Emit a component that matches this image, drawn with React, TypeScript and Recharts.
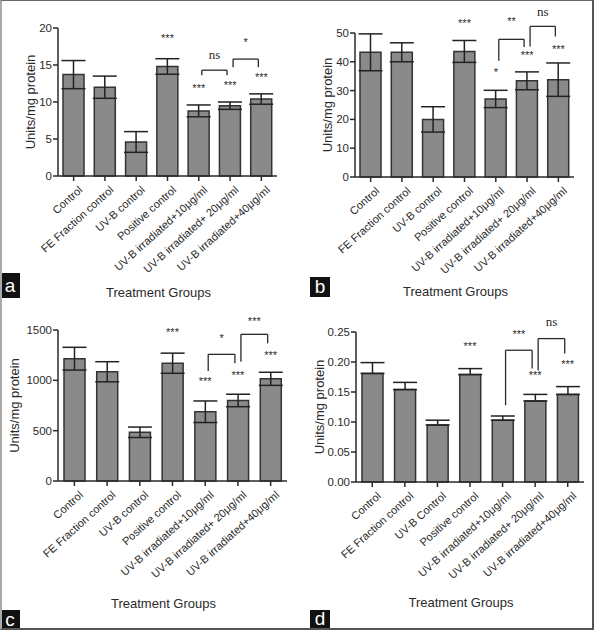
import React from "react";
import { ComposedChart, Bar, ErrorBar, XAxis, YAxis, ReferenceLine, ReferenceDot } from "recharts";

// category labels
const NAMES = [
  "Control",
  "FE Fraction control",
  "UV-B control",
  "Positive control",
  "UV-B irradiated+10μg/ml",
  "UV-B irradiated+ 20μg/ml",
  "UV-B irradiated+40μg/ml",
];
const NAMES_D = [
  "Control",
  "FE Fraction control",
  "UV-B Control",
  "Positive control",
  "UV-B irradiated+10μg/ml",
  "UV-B irradiated+ 20μg/ml",
  "UV-B irradiated+40μg/ml",
];

// panel a
const A_VALUES = [13.7, 12.0, 4.6, 14.8, 8.8, 9.5, 10.4];
const A_ERRORS = [1.9, 1.5, 1.4, 1.05, 0.8, 0.5, 0.7];
const A_TICKS = [0, 5, 10, 15, 20];
const A_STARS = [
  { at: 3, y: 18.6, text: "***" },
  { at: 4, y: 11.9, text: "***" },
  { at: 5, y: 12.3, text: "***" },
  { at: 6, y: 13.4, text: "***" },
];
const A_BRACKETS = [
  { from: 4, to: 5, top: 14.3, left: 13.6, right: 13.6, text: "ns", textY: 16.4 },
  { from: 5, to: 6, top: 15.8, left: 14.7, right: 14.7, text: "*", textY: 18.1 },
];

// panel b
const B_VALUES = [43.3, 43.3, 20.0, 43.6, 27.1, 33.4, 33.8];
const B_ERRORS = [6.4, 3.3, 4.4, 3.8, 3.0, 3.1, 5.8];
const B_TICKS = [0, 10, 20, 30, 40, 50];
const B_STARS = [
  { at: 3, y: 53.5, text: "***" },
  { at: 4, y: 36.6, text: "*" },
  { at: 5, y: 42.4, text: "***" },
  { at: 6, y: 44.5, text: "***" },
];
const B_BRACKETS = [
  { from: 4, to: 5, top: 47.8, left: 40.4, right: 45.1, text: "**", textY: 54.2 },
  { from: 5, to: 6, top: 52.3, left: 45.3, right: 48.8, text: "ns", textY: 57.3 },
];

// panel c
const C_VALUES = [1215, 1085, 484, 1170, 688, 800, 1015];
const C_ERRORS = [113, 100, 52, 100, 107, 62, 65];
const C_TICKS = [0, 500, 1000, 1500];
const C_STARS = [
  { at: 3, y: 1483, text: "***" },
  { at: 4, y: 993, text: "***" },
  { at: 5, y: 1053, text: "***" },
  { at: 6, y: 1251, text: "***" },
];
const C_BRACKETS = [
  { from: 4, to: 5, top: 1258, left: 1092, right: 1169, text: "*", textY: 1417 },
  { from: 5, to: 6, top: 1457, left: 1185, right: 1368, text: "***", textY: 1590 },
];

// panel d (upper error only)
const D_VALUES = [0.181, 0.154, 0.095, 0.179, 0.103, 0.135, 0.146];
const D_ERRORS = [0.018, 0.012, 0.008, 0.010, 0.007, 0.011, 0.013];
const D_TICKS = [0, 0.05, 0.1, 0.15, 0.2, 0.25];
const D_STARS = [
  { at: 3, y: 0.226, text: "***" },
  { at: 5, y: 0.178, text: "***" },
  { at: 6, y: 0.196, text: "***" },
];
const D_BRACKETS = [
  { from: 4, to: 5, top: 0.2196, left: 0.128, right: 0.189, text: "***", textY: 0.246 },
  { from: 5, to: 6, top: 0.239, left: 0.186, right: 0.214, text: "ns", textY: 0.267 },
];

const FONT = "'Liberation Sans', Arial, sans-serif";
const SERIF = "'Liberation Serif', 'Times New Roman', serif";
const INK = "#2a2a2a";

const CatTick = (props: any) => {
  const { x, y, payload } = props;
  return (
    <g transform={`translate(${x + 4},${y + 2})`}>
      <text x={0} y={0} dy={8} textAnchor="end" transform="rotate(-42)" fontSize={11} fill={INK} fontFamily={FONT}>
        {payload.value}
      </text>
    </g>
  );
};

function Panel({ names, values, errors, upperOnly, ticks, fmt, stars, brackets, top, bottom, left, right, titleBottom, yLabelX }: any) {
  const data = names.map((n: string, i: number) => ({
    name: n,
    value: values[i],
    err: upperOnly ? [0, errors[i]] : errors[i],
  }));
  const xAxisH = titleBottom - bottom;
  const starText = (t: string) => (t === "ns" ? { fontFamily: SERIF, fontSize: 13 } : { fontFamily: FONT, fontSize: 11 });
  const seg = (dx1: number, dx2: number) => (p: any) => (
    <line x1={p.x1 + dx1} y1={p.y1} x2={p.x2 + dx2} y2={p.y2} stroke={INK} strokeWidth={1.3} />
  );
  return (
    <ComposedChart
      width={297}
      height={315}
      data={data}
      style={{ overflow: "visible" }}
      margin={{ top, right: 297 - right, left: 0, bottom: 315 - bottom - xAxisH }}
    >
      <XAxis
        dataKey="name"
        interval={0}
        tick={<CatTick />}
        tickSize={5}
        tickMargin={2}
        height={xAxisH}
        stroke={INK}
        strokeWidth={1.5}
        label={{ value: "Treatment Groups", position: "insideBottom", offset: 0, dx: -9, fontSize: 13, fill: INK, fontFamily: FONT }}
      />
      <YAxis
        width={left}
        domain={[ticks[0], ticks[ticks.length - 1]]}
        ticks={ticks}
        tickFormatter={fmt}
        tickSize={5}
        tickMargin={1}
        stroke={INK}
        strokeWidth={1.5}
        tick={{ fontSize: 11.5, fill: INK, fontFamily: FONT }}
        label={{
          value: "Units/mg protein",
          angle: -90,
          position: "insideLeft",
          offset: yLabelX,
          style: { textAnchor: "middle" },
          fontSize: 13,
          fill: INK,
          fontFamily: FONT,
        }}
      />
      <Bar dataKey="value" fill="#8a8a8a" stroke="#333" strokeWidth={1.5} barSize={21} isAnimationActive={false}>
        <ErrorBar dataKey="err" width={12} stroke="#222" strokeWidth={1.5} />
      </Bar>
      {stars.map((s: any, i: number) => (
        <ReferenceDot
          key={"s" + i}
          x={names[s.at]}
          y={s.y}
          r={0}
          ifOverflow="visible"
          shape={(p: any) => (
            <text x={p.cx} y={p.cy} textAnchor="middle" dominantBaseline="central" fill={INK} {...starText(s.text)}>
              {s.text}
            </text>
          )}
        />
      ))}
      {brackets.map((b: any, i: number) => (
        <React.Fragment key={"b" + i}>
          <ReferenceLine
            segment={[{ x: names[b.from], y: b.top }, { x: names[b.to], y: b.top }]}
            ifOverflow="visible"
            shape={seg(3, -3)}
          />
          <ReferenceLine
            segment={[{ x: names[b.from], y: b.top }, { x: names[b.from], y: b.left }]}
            ifOverflow="visible"
            shape={seg(3, 3)}
          />
          <ReferenceLine
            segment={[{ x: names[b.to], y: b.top }, { x: names[b.to], y: b.right }]}
            ifOverflow="visible"
            shape={seg(-3, -3)}
          />
          <ReferenceLine
            segment={[{ x: names[b.from], y: b.textY }, { x: names[b.to], y: b.textY }]}
            ifOverflow="visible"
            shape={(p: any) => (
              <text x={(p.x1 + p.x2) / 2} y={p.y1} textAnchor="middle" dominantBaseline="central" fill={INK} {...starText(b.text)}>
                {b.text}
              </text>
            )}
          />
        </React.Fragment>
      ))}
    </ComposedChart>
  );
}

const Tag = ({ ch, x, y, w, h }: any) => (
  <div
    style={{
      position: "absolute",
      left: x,
      top: y,
      width: w,
      height: h,
      background: "#111",
      color: "#fff",
      fontFamily: FONT,
      fontSize: 19,
      lineHeight: `${h}px`,
      textAlign: "center",
    }}
  >
    {ch}
  </div>
);

export default function App() {
  const f0 = (v: number) => String(v);
  const f2 = (v: number) => v.toFixed(2);
  return (
    <div style={{ position: "absolute", left: 0, top: 0, width: 594, height: 630, background: "#fff", overflow: "hidden" }}>
      <div style={{ position: "absolute", left: 0, top: 0 }}>
        <Panel names={NAMES} values={A_VALUES} errors={A_ERRORS} ticks={A_TICKS} fmt={f0} stars={A_STARS} brackets={A_BRACKETS}
          top={28} bottom={176} left={58} right={277} titleBottom={297} yLabelX={30} />
      </div>
      <div style={{ position: "absolute", left: 297, top: 0 }}>
        <Panel names={NAMES} values={B_VALUES} errors={B_ERRORS} ticks={B_TICKS} fmt={f0} stars={B_STARS} brackets={B_BRACKETS}
          top={33} bottom={177} left={58} right={277} titleBottom={296} yLabelX={30} />
      </div>
      <div style={{ position: "absolute", left: 0, top: 315 }}>
        <Panel names={NAMES} values={C_VALUES} errors={C_ERRORS} ticks={C_TICKS} fmt={f0} stars={C_STARS} brackets={C_BRACKETS}
          top={15} bottom={166} left={58} right={287} titleBottom={293} yLabelX={14} />
      </div>
      <div style={{ position: "absolute", left: 297, top: 315 }}>
        <Panel names={NAMES_D} values={D_VALUES} errors={D_ERRORS} upperOnly ticks={D_TICKS} fmt={f2} stars={D_STARS} brackets={D_BRACKETS}
          top={17} bottom={167} left={59} right={287} titleBottom={292} yLabelX={22} />
      </div>
      <Tag ch="a" x={0} y={273} w={20} h={25} />
      <Tag ch="b" x={310} y={277} w={20} h={20} />
      <Tag ch="c" x={0} y={610} w={20} h={20} />
      <Tag ch="d" x={310} y={610} w={20} h={18} />
      <div style={{ position: "absolute", left: 0, top: 0, width: 594, height: 630, boxSizing: "border-box",
        borderTop: "1px solid #666", borderLeft: "2px solid #aaa", borderRight: "2px solid #555", borderBottom: "2px solid #555", pointerEvents: "none" }} />
    </div>
  );
}
